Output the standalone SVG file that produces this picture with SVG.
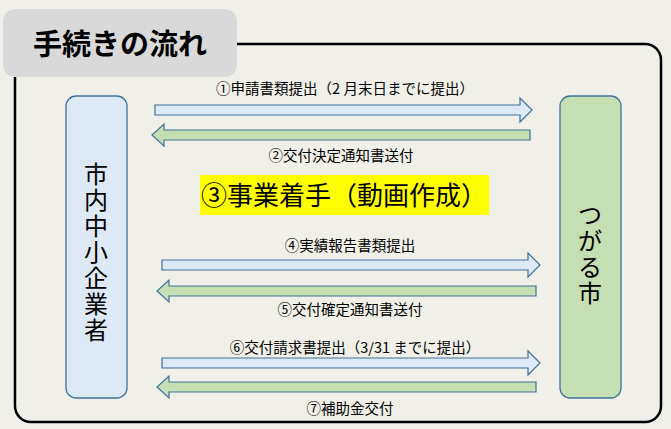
<svg xmlns="http://www.w3.org/2000/svg" width="671" height="429" viewBox="0 0 671 429">
<style>
text{font-family:"Noto Sans CJK JP","Noto Sans",sans-serif;fill:#000}
.lbl{font-size:14.5px;text-anchor:middle}
.r{fill:#dde9f5;stroke:#41719c;stroke-width:1.2}
.l{fill:#c6dfb2;stroke:#41719c;stroke-width:1.2}
.v{font-size:24px;text-anchor:middle}
</style>
<rect width="671" height="429" fill="#f1f0e8"/>
<rect x="15" y="44" width="646" height="378" rx="16" fill="none" stroke="#000" stroke-width="2.5"/>
<g id="title"><rect x="3" y="9" width="234" height="68" rx="12" fill="#d9d9d9"/>
<text x="120" y="55" font-size="29" font-weight="bold" text-anchor="middle">手続きの流れ</text></g>
<g id="n1"><rect x="66" y="96" width="61" height="302" rx="10" fill="#dde9f5" stroke="#41719c" stroke-width="1.3"/>
<text class="v" x="96" y="183">市</text><text class="v" x="96" y="209">内</text><text class="v" x="96" y="235">中</text><text class="v" x="96" y="261">小</text><text class="v" x="96" y="287">企</text><text class="v" x="96" y="313">業</text><text class="v" x="96" y="339">者</text></g>
<g id="n2"><rect x="560" y="96" width="61" height="302" rx="10" fill="#c6dfb2" stroke="#41719c" stroke-width="1.3"/>
<text class="v" x="590" y="224">つ</text><text class="v" x="590" y="250">が</text><text class="v" x="590" y="276">る</text><text class="v" x="590" y="302">市</text></g>
<g id="connectors">
<path class="r" d="M155,105 H520 V98 L532,110 L520,122 V115 H155 Z"/>
<path class="l" d="M530,130 H164 V124 L152,135 L164,146 V140 H530 Z"/>
<path class="r" d="M162,260 H528 V253 L540,265 L528,277 V270 H162 Z"/>
<path class="l" d="M536,286 H169 V280 L157,291 L169,302 V296 H536 Z"/>
<path class="r" d="M162,358 H528 V351 L540,363 L528,375 V368 H162 Z"/>
<path class="l" d="M536,382 H169 V376 L157,387 L169,398 V392 H536 Z"/>
</g>
<g id="labels">
<text class="lbl" x="345" y="94">①申請書類提出（2 月末日までに提出）</text>
<text class="lbl" x="341" y="161">②交付決定通知書送付</text>
<rect x="200" y="175" width="289" height="40" fill="#ffff00"/>
<text x="344" y="205" font-size="26" text-anchor="middle">③事業着手（動画作成）</text>
<text class="lbl" x="350" y="251">④実績報告書類提出</text>
<text class="lbl" x="350" y="315">⑤交付確定通知書送付</text>
<text class="lbl" x="355" y="353">⑥交付請求書提出（3/31 までに提出）</text>
<text class="lbl" x="350" y="414">⑦補助金交付</text>
</g>
</svg>
